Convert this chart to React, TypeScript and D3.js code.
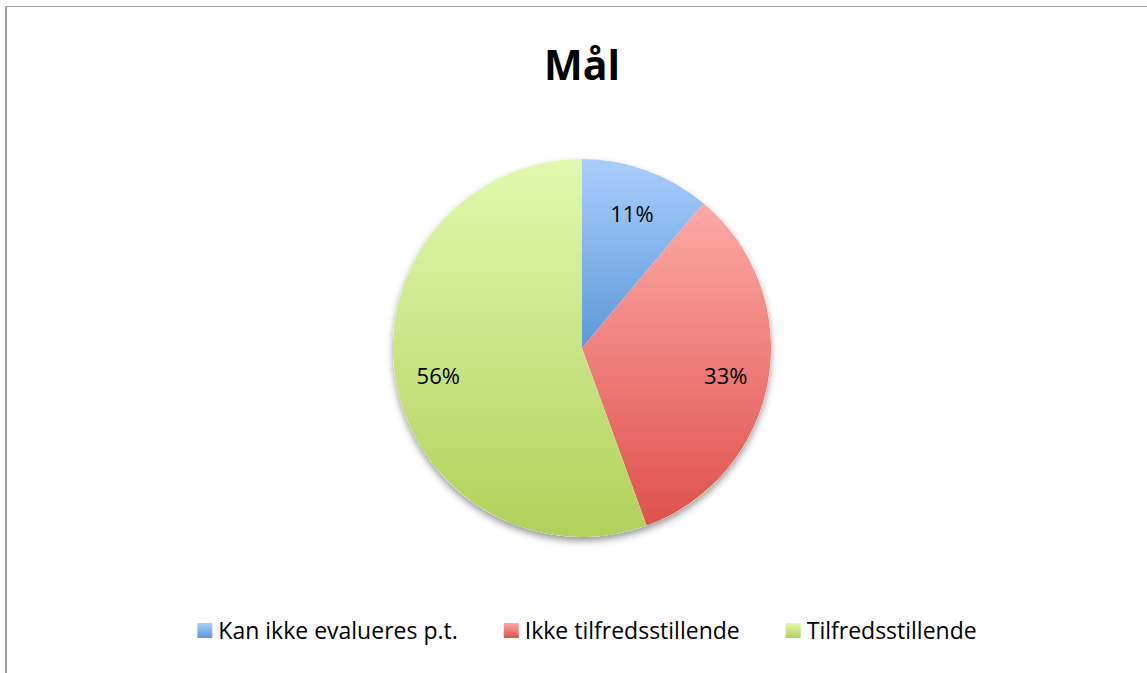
import { useEffect, useRef } from "react";
import * as d3 from "d3";

// values (share of goals)
const categories = ["Kan ikke evalueres p.t.", "Ikke tilfredsstillende", "Tilfredsstillende"];
const counts = [2, 6, 10];
const labels = ["11%", "33%", "56%"];
const gradTop = ["#aacefc", "#fda9a6", "#e1f9ae"];
const gradBottom = ["#5c99da", "#df514c", "#b1d15b"];

const W = 1147;
const H = 673;
const FONT = "'Open Sans', sans-serif";

const App = () => {
    const svgRef = useRef<SVGSVGElement>(null);

    useEffect(() => {
        const svg = d3.select(svgRef.current);
        svg.selectAll("*").remove();

        const cx = 582;
        const cy = 348;
        const radius = 189;

        // frame (right and bottom edges are cropped off)
        svg.append("line").attr("x1", 6).attr("x2", 6).attr("y1", 6).attr("y2", H)
            .attr("stroke", "#a3a3a3").attr("stroke-width", 2);
        svg.append("line").attr("x1", 5).attr("x2", W).attr("y1", 6.5).attr("y2", 6.5)
            .attr("stroke", "#a3a3a3").attr("stroke-width", 1);

        const defs = svg.append("defs");
        categories.forEach((c, i) => {
            const g = defs.append("linearGradient").attr("id", `g${i}`)
                .attr("x1", 0).attr("x2", 0).attr("y1", 0).attr("y2", 1);
            g.append("stop").attr("offset", "0%").attr("stop-color", gradTop[i]);
            g.append("stop").attr("offset", "100%").attr("stop-color", gradBottom[i]);
        });
        const shadow = defs.append("filter").attr("id", "shadow")
            .attr("x", "-10%").attr("y", "-10%").attr("width", "120%").attr("height", "125%");
        shadow.append("feDropShadow").attr("dx", 0).attr("dy", 4).attr("stdDeviation", 3.5)
            .attr("flood-color", "#000").attr("flood-opacity", 0.4);

        // title
        svg.append("text").attr("x", cx).attr("y", 80).attr("text-anchor", "middle")
            .attr("font-family", FONT).attr("font-weight", "bold").attr("font-size", 41)
            .attr("fill", "#000").text("Mål");

        const pie = d3.pie<number>().sort(null).value((d) => d);
        const arcs = pie(counts);
        const arc = d3.arc<d3.PieArcDatum<number>>().innerRadius(0).outerRadius(radius);
        const labelArc = d3.arc<d3.PieArcDatum<number>>().innerRadius(146).outerRadius(146);

        const g = svg.append("g").attr("transform", `translate(${cx},${cy})`);
        g.append("circle").attr("r", radius).attr("fill", "#fff").attr("filter", "url(#shadow)");
        g.selectAll("path.slice").data(arcs).join("path")
            .attr("class", "slice")
            .attr("d", arc)
            .attr("fill", (d, i) => `url(#g${i})`);

        g.selectAll("text.lbl").data(arcs).join("text")
            .attr("class", "lbl")
            .attr("transform", (d) => `translate(${labelArc.centroid(d)})`)
            .attr("text-anchor", "middle")
            .attr("dy", "0.5em")
            .attr("font-family", FONT).attr("font-size", 22).attr("fill", "#000")
            .text((d, i) => labels[i]);

        // legend, laid out from measured text widths and centred
        const legend = svg.append("g");
        const items = categories.map((c, i) => {
            const item = legend.append("g");
            item.append("rect").attr("width", 15).attr("height", 15).attr("fill", `url(#g${i})`);
            const t = item.append("text").attr("x", 21).attr("y", 16)
                .attr("font-family", FONT).attr("font-size", 23).attr("fill", "#000")
                .text(c);
            const w = (t.node() as SVGTextElement).getComputedTextLength();
            return { item, w: 21 + w };
        });
        const gap = 46;
        const total = d3.sum(items, (d) => d.w) + gap * (items.length - 1);
        let x = 587 - total / 2;
        items.forEach(({ item, w }) => {
            item.attr("transform", `translate(${x},623)`);
            x += w + gap;
        });
    }, []);

    return (
        <svg ref={svgRef} width={W} height={H}
            style={{ position: "absolute", left: 0, top: 0, background: "#fff" }} />
    );
};

export default App;
